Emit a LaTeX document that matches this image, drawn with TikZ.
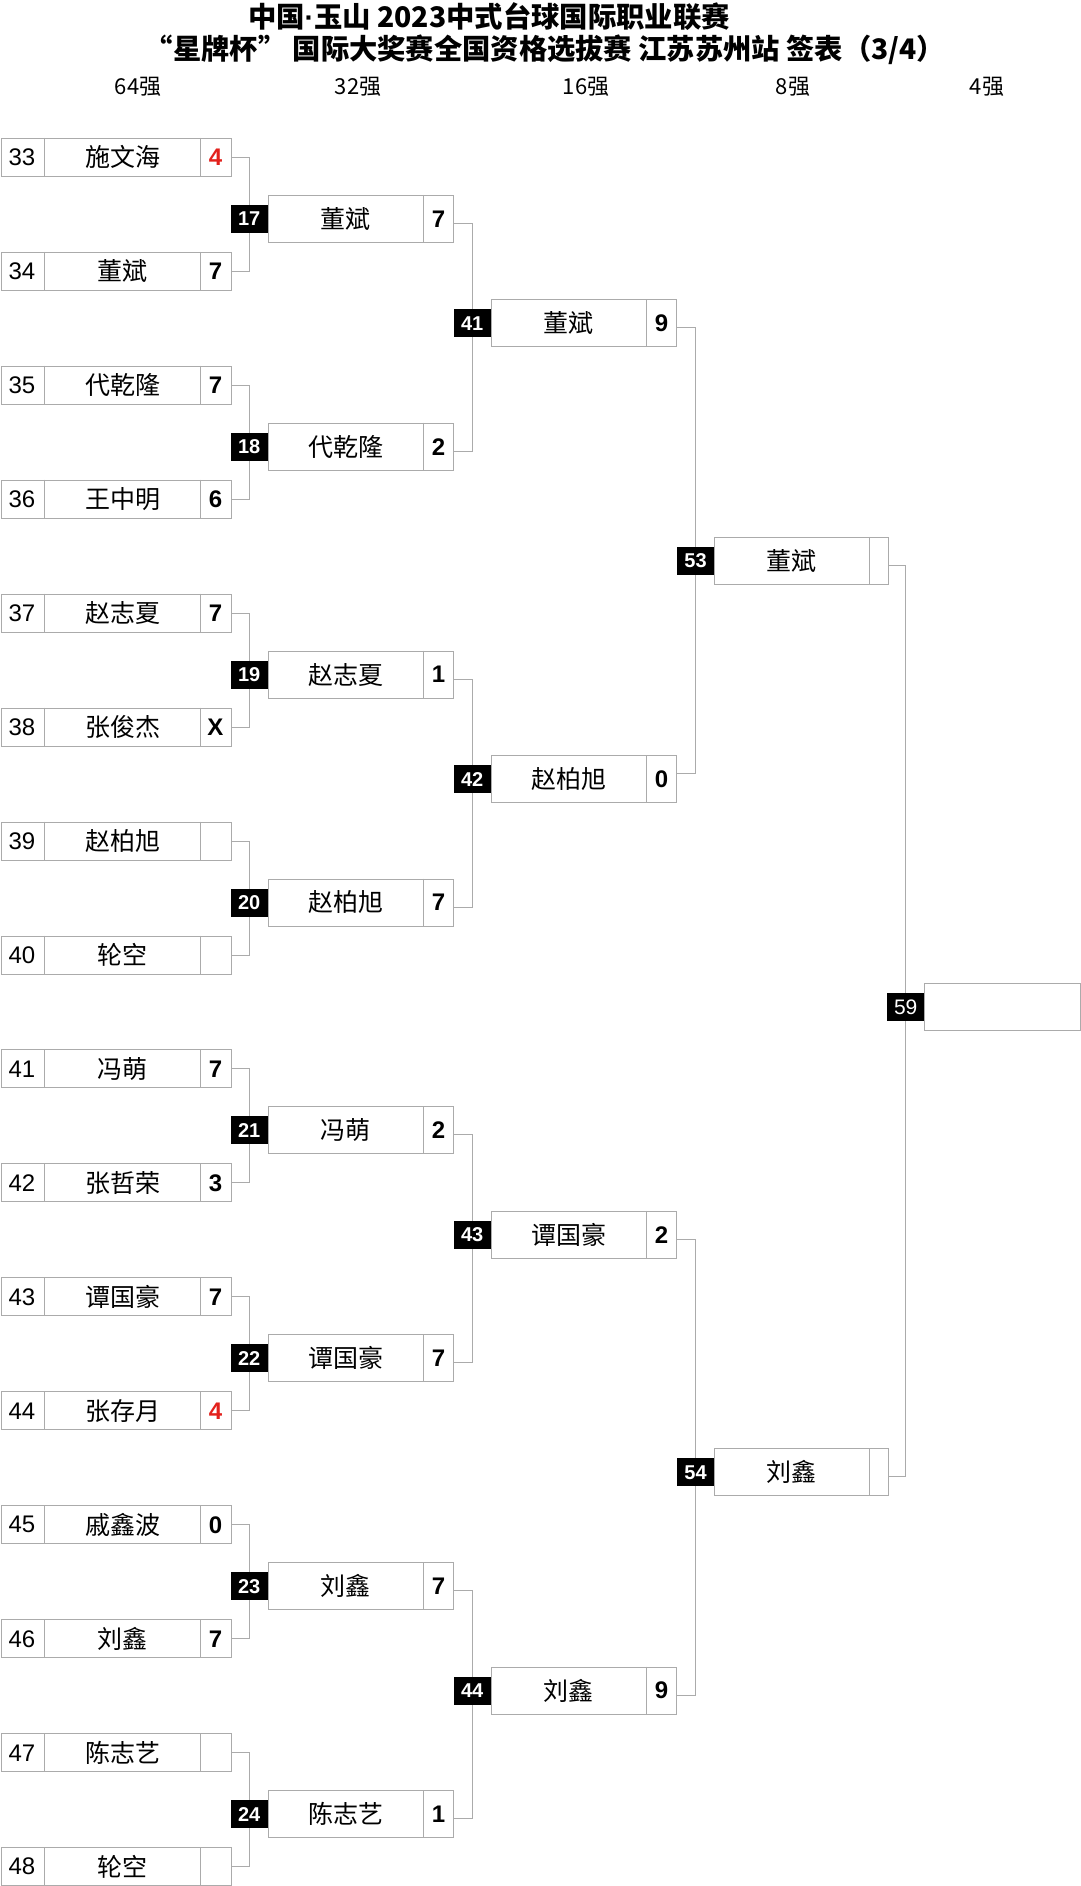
\documentclass[tikz,border=0pt]{standalone}
\usepackage{fontspec}
\setmainfont{Liberation Sans}
\newfontfamily\cjk{Noto Sans CJK SC}
\definecolor{bd}{HTML}{ABABAB}
\definecolor{lose}{HTML}{E3211C}
\tikzset{
  frame/.style={draw=bd, line width=1pt, inner sep=0pt, anchor=west},
  r1box/.style={frame, minimum width=230pt, minimum height=38pt},
  r2box/.style={frame, minimum width=185.6pt, minimum height=47pt},
  r3box/.style={frame, minimum width=185.3pt, minimum height=47pt},
  r4box/.style={frame, minimum width=173.4pt, minimum height=47pt},
  r5box/.style={frame, minimum width=155.5pt, minimum height=47pt},
  divider/.style={draw=bd, line width=1pt},
  conn/.style={draw=bd, line width=1pt},
  numtxt/.style={inner sep=0pt, font=\fontsize{24}{24}\selectfont},
  nametxt/.style={inner sep=0pt, font=\cjk\fontsize{25}{25}\selectfont},
  scoretxt/.style={inner sep=0pt, font=\bfseries\fontsize{24}{24}\selectfont},
  lab/.style={fill=black, text=white, inner sep=0pt, minimum width=37pt, minimum height=28pt, font=\bfseries\fontsize{20}{20}\selectfont},
  labreg/.style={lab, font=\fontsize{21}{21}\selectfont},
  head/.style={inner sep=0pt, font=\cjk\fontsize{22}{22}\selectfont},
  ttl/.style={inner sep=0pt, font=\cjk\bfseries}
}
\begin{document}
\begin{tikzpicture}[x=1pt,y=-1pt]
\useasboundingbox[fill=white] (0,0) rectangle (1080,1886);

% title and round headers
\node[ttl] (t1) at (489,17) {\resizebox{482pt}{!}{\fontsize{28}{28}\selectfont 中国{\rmfamily\bfseries ·}玉山 2023中式台球国际职业联赛}};
\node[ttl] (t2) at (545,50) {\resizebox{800pt}{!}{\fontsize{28}{28}\selectfont “星牌杯” 国际大奖赛全国资格选拔赛 江苏苏州站 签表（3/4）}};
\node[head] (h64) at (138,87) {64强};
\node[head] (h32) at (358,87) {32强};
\node[head] (h16) at (586,87) {16强};
\node[head] (h8) at (793,87) {8强};
\node[head] (h4) at (987,87) {4强};

% round of 64
\foreach \i/\nm/\sc/\col [count=\k from 0] in {
  33/施文海/4/lose, 34/董斌/7/black, 35/代乾隆/7/black, 36/王中明/6/black,
  37/赵志夏/7/black, 38/张俊杰/X/black, 39/赵柏旭//black, 40/轮空//black,
  41/冯萌/7/black, 42/张哲荣/3/black, 43/谭国豪/7/black, 44/张存月/4/lose,
  45/戚鑫波/0/black, 46/刘鑫/7/black, 47/陈志艺//black, 48/轮空//black}{
  \pgfmathsetmacro\yy{157.3+113.96*\k}
  \node[r1box] (p\i) at (0.5,\yy) {};
  \draw[divider] ([xshift=44pt]p\i.north west) -- ([xshift=44pt]p\i.south west);
  \draw[divider] ([xshift=200pt]p\i.north west) -- ([xshift=200pt]p\i.south west);
  \node[numtxt] (n\i) at ([xshift=21.5pt]p\i.west) {\i};
  \node[nametxt] (m\i) at ([xshift=122pt]p\i.west) {\nm};
  \node[scoretxt, text=\col] (s\i) at ([xshift=215pt]p\i.west) {\sc};
}

% round of 32
\foreach \i/\nm/\sc [count=\k from 0] in {
  17/董斌/7, 18/代乾隆/2, 19/赵志夏/1, 20/赵柏旭/7,
  21/冯萌/2, 22/谭国豪/7, 23/刘鑫/7, 24/陈志艺/1}{
  \pgfmathsetmacro\yy{218.8+227.9*\k}
  \coordinate (c\i) at (249.2,\yy);
  \node[r2box] (p\i) at (267.7,\yy) {};
  \draw[divider] ([xshift=156pt]p\i.north west) -- ([xshift=156pt]p\i.south west);
  \node[nametxt] (m\i) at ([xshift=78pt]p\i.west) {\nm};
  \node[scoretxt] (s\i) at ([xshift=170.8pt]p\i.west) {\sc};
}

% round of 16
\foreach \i/\nm/\sc [count=\k from 0] in {41/董斌/9, 42/赵柏旭/0, 43/谭国豪/2, 44/刘鑫/9}{
  \pgfmathsetmacro\yy{323.3+455.8*\k}
  \coordinate (c\i) at (472.2,\yy);
  \node[r3box] (q\i) at (491,\yy) {};
  \draw[divider] ([xshift=155.7pt]q\i.north west) -- ([xshift=155.7pt]q\i.south west);
  \node[nametxt] (mq\i) at ([xshift=77.9pt]q\i.west) {\nm};
  \node[scoretxt] (sq\i) at ([xshift=170.5pt]q\i.west) {\sc};
}

% quarter finals
\foreach \i/\nm [count=\k from 0] in {53/董斌, 54/刘鑫}{
  \pgfmathsetmacro\yy{560.8+911.4*\k}
  \coordinate (c\i) at (695.5,\yy);
  \node[r4box] (q\i) at (714.3,\yy) {};
  \draw[divider] ([xshift=155pt]q\i.north west) -- ([xshift=155pt]q\i.south west);
  \node[nametxt] (mq\i) at ([xshift=77.5pt]q\i.west) {\nm};
}

% semi final slot
\coordinate (c59) at (905.7,1007.2);
\node[r5box] (q59) at (924,1007.2) {};

% connectors
\foreach \a/\b/\w in {33/34/17, 35/36/18, 37/38/19, 39/40/20, 41/42/21, 43/44/22, 45/46/23, 47/48/24}{
  \draw[conn] (p\a.east) -| (c\w);
  \draw[conn] (p\b.east) -| (c\w);
}
\foreach \a/\b/\w in {17/18/41, 19/20/42, 21/22/43, 23/24/44}{
  \draw[conn] ([yshift=-4.5pt]p\a.east) -| (c\w);
  \draw[conn] ([yshift=-4.5pt]p\b.east) -| (c\w);
}
\draw[conn] ([yshift=-4.5pt]q41.east) -| (c53);
\draw[conn] ([yshift=6pt]q42.east) -| (c53);
\draw[conn] ([yshift=-4.5pt]q43.east) -| (c54);
\draw[conn] ([yshift=-4.5pt]q44.east) -| (c54);
\draw[conn] ([yshift=-4.5pt]q53.east) -| (c59);
\draw[conn] ([yshift=-4.5pt]q54.east) -| (c59);

% match labels
\foreach \w in {17,18,19,20,21,22,23,24,41,42,43,44,53,54}{
  \node[lab] (l\w) at (c\w) {\w};
}
\node[labreg] (l59) at (c59) {59};
\end{tikzpicture}
\end{document}
